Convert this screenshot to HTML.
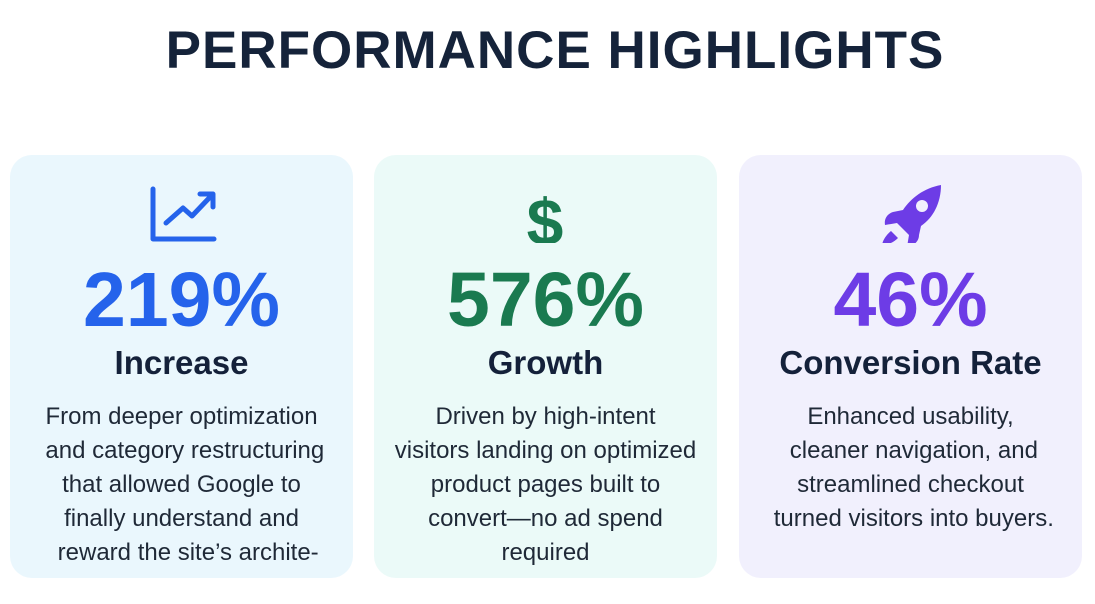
<!DOCTYPE html>
<html><head><style>
body{margin:0;width:1095px;height:604px;background:#fff;font-family:"Liberation Sans",sans-serif;position:relative;overflow:hidden}
h1{position:absolute;top:20px;left:0;width:1110px;text-align:center;margin:0;font-size:53px;font-weight:bold;letter-spacing:1px;color:#15233a}
.card{position:absolute;top:155px;width:343px;height:423px;border-radius:22px;text-align:center}
.icon{position:absolute;top:28px;left:0;width:100%;height:60px}
.num{position:absolute;top:100px;width:100%;font-size:77px;font-weight:bold;line-height:90px}
.lab{position:absolute;top:186px;width:100%;font-size:33px;font-weight:bold;color:#14213a;line-height:44px}
.txt{position:absolute;top:245px;left:0;width:100%;font-size:24px;line-height:34px;color:#1f2937}
</style></head><body>
<h1>PERFORMANCE HIGHLIGHTS</h1>
<div class="card" style="left:10px;background:#eaf7fd">
<svg class="icon" viewBox="0 0 343 60"><g fill="none" stroke="#2563eb" stroke-width="5" stroke-linecap="round" stroke-linejoin="round"><path d="M143 6V56H204"/><path d="M156 40L173 25L182 33L202 12"/><path d="M190 11H203V24"/></g></svg>
<div class="num" style="color:#2563eb">219%</div>
<div class="lab">Increase</div>
<div class="txt">From deeper optimization<br>&nbsp;and category restructuring<br>that allowed Google to<br>finally understand and<br>&nbsp;&nbsp;reward the site’s archite-</div>
</div>
<div class="card" style="left:374px;background:#ebfaf8">
<svg class="icon" viewBox="0 0 343 60"><text x="171" y="62" text-anchor="middle" font-family="Liberation Sans" font-weight="bold" font-size="66" fill="#1a7a50">$</text></svg>
<div class="num" style="color:#1a7a50">576%</div>
<div class="lab">Growth</div>
<div class="txt">Driven by high-intent<br>visitors landing on optimized<br>product pages built to<br>convert—no ad spend<br>required</div>
</div>
<div class="card" style="left:739px;background:#f1f0fd">
<svg class="icon" viewBox="0 0 343 60"><g fill="#6d3ce6"><path d="M202 2C185 5 172 15 164 27L154 29C148 31 145 36 146 42L158 40L170 52L168 64C174 63 180 59 180 52L182 43C194 35 202 20 202 2Z"/><path d="M152 48L159 55C153 61 146 62 143 63C143 59 146 53 152 48Z"/><circle cx="183" cy="23" r="6" fill="#f1f0fd"/></g></svg>
<div class="num" style="color:#6d3ce6">46%</div>
<div class="lab">Conversion Rate</div>
<div class="txt">Enhanced usability,<br>&nbsp;cleaner navigation, and<br>streamlined checkout<br>&nbsp;turned visitors into buyers.</div>
</div>
</body></html>
